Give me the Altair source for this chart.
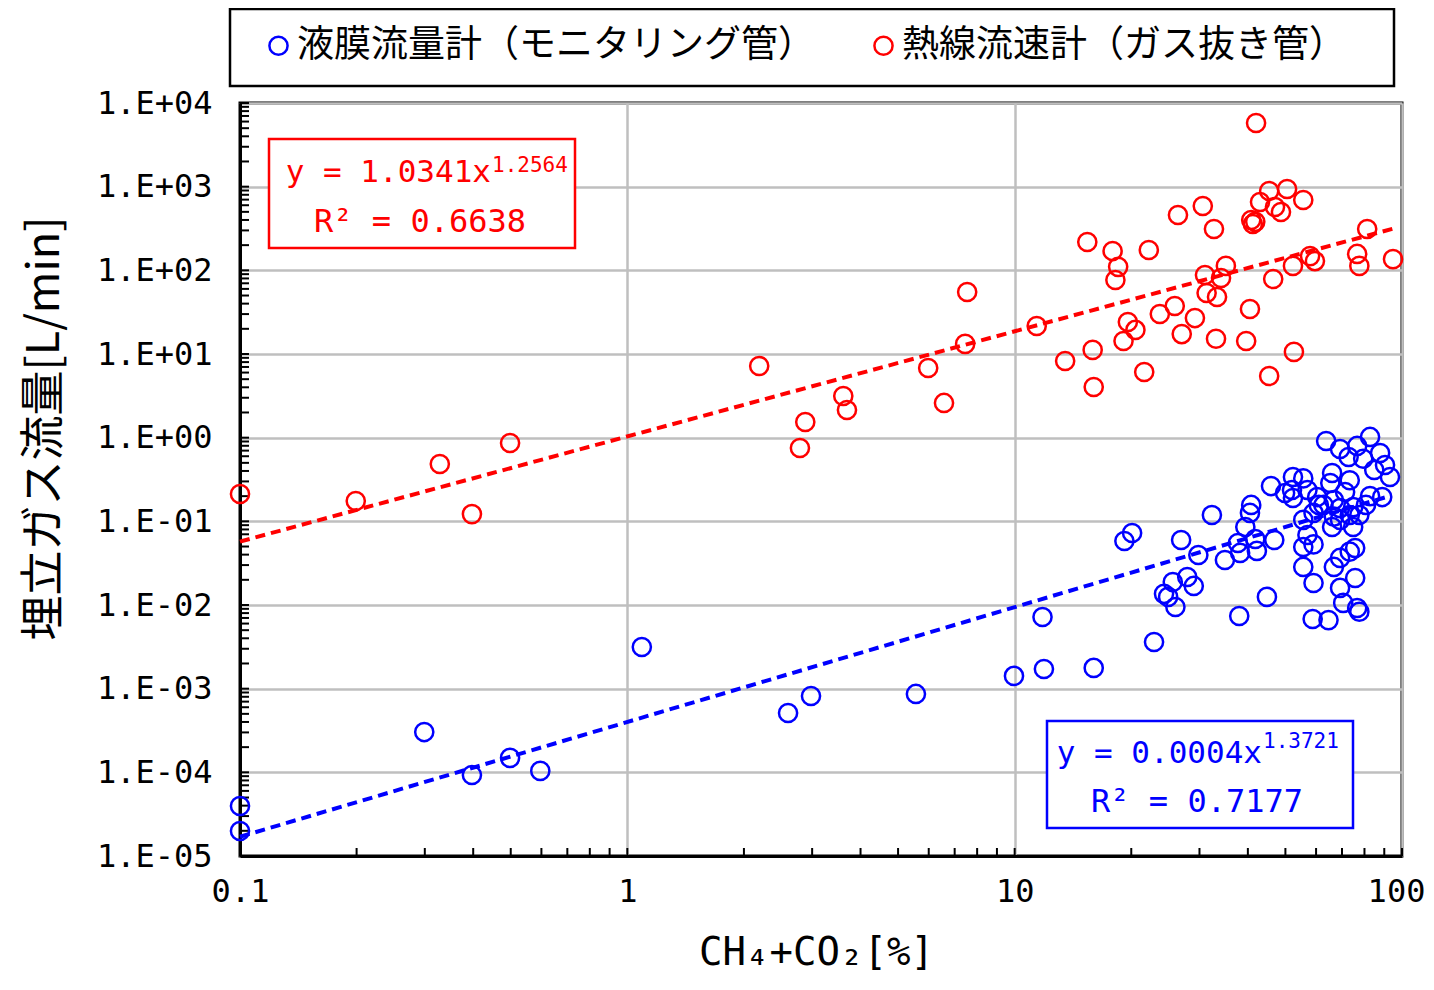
import altair as alt
import pandas as pd

# ---------------- data ----------------
blue_name = "液膜流量計（モニタリング管）"
red_name = "熱線流速計（ガス抜き管）"

blue_x = [0.1, 0.1, 0.299, 0.397, 0.498, 0.596, 1.09, 2.60, 2.98, 5.56, 9.96,
          11.9, 16.0, 11.8, 22.9, 19.2, 20.1, 26.9, 29.8, 27.9, 29.0, 25.6, 24.3, 24.9, 26.0,
          32.3, 40.8, 40.5, 39.4, 37.7, 38.2, 41.8, 42.2, 46.8, 34.9, 44.8, 38.0, 45.9,
          63.7, 82.7, 69.2, 76.6, 87.8, 72.8, 79.4, 90.4, 93.1, 84.8, 66.0, 52.3, 55.6, 73.3,
          71.3, 88.9, 82.7, 52.0, 52.3, 57.0, 60.4, 62.7, 66.7, 69.2, 74.8, 77.6, 66.7, 59.1,
          55.6, 66.0, 74.8, 57.0, 55.6, 59.1, 55.6, 75.7, 73.3, 69.2, 66.7, 59.1, 75.7, 69.2,
          70.5, 76.6, 77.6, 58.8, 64.6, 65.3, 49.9, 73.3, 80.7, 61.0, 69.2]
blue_y = [3.96e-5, 1.99e-5, 3.03e-4, 9.3e-5, 1.49e-4, 1.04e-4, 3.15e-3, 5.12e-4, 8.18e-4, 8.65e-4, 1.42e-3,
          1.72e-3, 1.77e-3, 7.19e-3, 3.61e-3, 0.0582, 0.0726, 0.0598, 0.0396, 0.0216, 0.0169, 0.0188, 0.0136, 0.0125, 0.00946,
          0.119, 0.157, 0.126, 0.0856, 0.0551, 0.0419, 0.0615, 0.0443, 0.0598, 0.0345, 0.0125, 0.00739, 0.264,
          0.912, 1.02, 0.732, 0.796, 0.656, 0.588, 0.56, 0.471, 0.339, 0.411, 0.378, 0.339, 0.326, 0.31,
          0.224, 0.195, 0.2, 0.237, 0.19, 0.237, 0.195, 0.157, 0.18, 0.144, 0.148, 0.119, 0.114, 0.126,
          0.104, 0.0856, 0.0856, 0.0687, 0.0493, 0.053, 0.0285, 0.048, 0.0434, 0.0365, 0.0285, 0.0183, 0.021, 0.016,
          0.0106, 0.0092, 0.0083, 0.0068, 0.0066, 0.287, 0.218, 0.119, 0.157, 0.157, 0.104]

red_x = [0.1, 0.199, 0.328, 0.397, 0.498, 2.19, 2.79, 2.88, 3.61, 3.69, 5.98, 6.57, 7.45, 7.54, 11.4,
         42.0, 45.4, 50.5, 43.0, 47.0, 48.7, 55.6, 30.6, 26.4, 32.7, 40.8, 41.2, 41.8,
         81.3, 94.8, 76.6, 77.6, 57.9, 59.6, 52.3, 46.5, 35.1, 34.1, 31.0, 31.3, 33.3, 40.5,
         29.2, 25.9, 23.7, 27.0, 19.6, 20.5, 19.1, 33.1, 39.6, 52.6, 45.4,
         15.4, 17.9, 18.5, 18.2, 22.2, 13.5, 15.9, 16.0, 21.6]
red_y = [0.212, 0.175, 0.484, 0.122, 0.863, 7.19, 0.753, 1.54, 3.15, 2.14, 6.80, 2.60, 13.2, 55.1, 21.6,
         5770, 887, 938, 656, 571, 498, 693, 587, 459, 312, 400, 358, 380,
         312, 136, 157, 113, 148, 129, 113, 78.7, 113, 81, 88, 53.6, 48.0, 34.5,
         26.9, 37.5, 30.1, 17.3, 24.1, 19.4, 14.3, 15.2, 14.3, 10.6, 5.46,
         218, 170, 110, 76.7, 175, 8.25, 11.2, 4.03, 6.10]

# trendline coefficients as printed on the chart (y = a * x^b)
red_a, red_b = 1.0341, 1.2564
blue_a, blue_b = 0.0004, 1.3721
red_trend_x = [0.1, 94.8]
blue_trend_x = [0.1, 93.1]

red_eq = ["y = 1.0341x", "1.2564", "R² = 0.6638"]
blue_eq = ["y = 0.0004x", "1.3721", "R² = 0.7177"]

x_tick_values = [0.1, 1, 10, 100]
x_tick_labels = ["0.1", "1", "10", "100"]
y_tick_values = [1e-5, 1e-4, 1e-3, 1e-2, 1e-1, 1, 10, 100, 1000, 10000]
y_tick_labels = ["1.E-05", "1.E-04", "1.E-03", "1.E-02", "1.E-01",
                 "1.E+00", "1.E+01", "1.E+02", "1.E+03", "1.E+04"]

x_title = "CH₄+CO₂[%]"
y_title = "埋立ガス流量[L/min]"

# ---------------- tables ----------------
points = pd.DataFrame({
    "x": blue_x + red_x,
    "y": blue_y + red_y,
    "series": [blue_name] * len(blue_x) + [red_name] * len(red_x),
})

trend = pd.DataFrame({
    "x": red_trend_x + blue_trend_x,
    "y": [red_a * v ** red_b for v in red_trend_x] + [blue_a * v ** blue_b for v in blue_trend_x],
    "series": [red_name] * len(red_trend_x) + [blue_name] * len(blue_trend_x),
})

minor_x = [m * 10.0 ** e for e in range(-1, 2) for m in range(1, 10)] + [100]
minor_y = [m * 10.0 ** e for e in range(-5, 4) for m in range(1, 10)] + [10000]
xt = pd.DataFrame({"x": minor_x})
yt = pd.DataFrame({"y": minor_y})
one = pd.DataFrame({"k": [0]})

W, H = 1162, 753
NUM_FONT = "DejaVu Sans Mono"
JP_FONT = "Noto Sans CJK JP"

xscale = alt.Scale(type="log", domain=[0.1, 100], nice=False)
yscale = alt.Scale(type="log", domain=[1e-5, 1e4], nice=False)
cscale = alt.Scale(domain=[blue_name, red_name], range=["#0000FF", "#FF0000"])

x_label_expr = "[" + ",".join(f"'{s}'" for s in x_tick_labels) + "][round(log(datum.value)/LN10)+1]"
y_label_expr = "[" + ",".join(f"'{s}'" for s in y_tick_labels) + "][round(log(datum.value)/LN10)+5]"

x_axis = alt.Axis(values=x_tick_values, labelExpr=x_label_expr, grid=True, gridColor="#BFBFBF",
                  gridWidth=2.5, ticks=False, tickSize=0, domain=True, domainColor="black",
                  domainWidth=3, labelFont=NUM_FONT, labelFontSize=32, labelColor="black",
                  labelPadding=20, labelFlush=False,
                  labelOffset={"condition": {"test": "datum.value >= 100", "value": -6}, "value": 0},
                  title=x_title, titleFont=NUM_FONT,
                  titleFontSize=39, titleFontWeight="normal", titleColor="black",
                  titleX=576, titleY=108, titleBaseline="alphabetic", titleAlign="center")
y_axis = alt.Axis(values=y_tick_values, labelExpr=y_label_expr, grid=True, gridColor="#BFBFBF",
                  gridWidth=2.5, ticks=False, tickSize=0, domain=True, domainColor="black",
                  domainWidth=3, labelFont=NUM_FONT, labelFontSize=32, labelColor="black",
                  labelPadding=28, labelFlush=False, title=y_title, titleFont=JP_FONT,
                  titleFontSize=45, titleFontWeight="normal", titleColor="black",
                  titleX=-196, titleY=325, titleAngle=270, titleAlign="center",
                  titleBaseline="middle")

X = alt.X("x:Q", scale=xscale, axis=x_axis)
Y = alt.Y("y:Q", scale=yscale, axis=y_axis)

pts = alt.Chart(points).mark_point(shape="circle", filled=False, size=330, strokeWidth=2.5, opacity=1).encode(
    x=X, y=Y,
    color=alt.Color("series:N", scale=cscale, legend=alt.Legend(
        orient="none", legendX=20, legendY=-76, direction="horizontal", title=None,
        labelFont=JP_FONT, labelFontSize=37, labelColor="black", labelLimit=2000,
        symbolType="circle", symbolSize=330, symbolStrokeWidth=2.5, labelOffset=0,
        columnPadding=50, padding=0)),
)

lines = alt.Chart(trend).mark_line(strokeDash=[10, 6], strokeWidth=4).encode(
    x=X, y=Y,
    color=alt.Color("series:N", scale=cscale, legend=None),
    detail="series:N",
)

xticks = alt.Chart(xt).mark_rule(color="black", strokeWidth=2).encode(
    x=X, y=alt.value(H), y2=alt.value(H - 8))
yticks = alt.Chart(yt).mark_rule(color="black", strokeWidth=2).encode(
    y=Y, x=alt.value(0), x2=alt.value(9))

legend_box = alt.Chart(one).mark_rect(fill="white", stroke="black", strokeWidth=2.5).encode(
    x=alt.value(-10), x2=alt.value(1154), y=alt.value(-94), y2=alt.value(-17))

red_box = alt.Chart(one).mark_rect(fill="white", stroke="#FF0000", strokeWidth=2.5).encode(
    x=alt.value(29), x2=alt.value(335), y=alt.value(36), y2=alt.value(145))
blue_box = alt.Chart(one).mark_rect(fill="white", stroke="#0000FF", strokeWidth=2.5).encode(
    x=alt.value(807), x2=alt.value(1113), y=alt.value(618), y2=alt.value(725))


def eq_text(txt, x, y, size, color, align):
    return alt.Chart(one).mark_text(font=NUM_FONT, fontSize=size, color=color, align=align,
                                    baseline="alphabetic").encode(
        x=alt.value(x), y=alt.value(y), text=alt.value(txt))


texts = [
    eq_text(red_eq[0], 251, 79, 31, "#FF0000", "right"),
    eq_text(red_eq[1], 252, 69, 21, "#FF0000", "left"),
    eq_text(red_eq[2], 180, 129, 32, "#FF0000", "center"),
    eq_text(blue_eq[0], 1022, 660, 31, "#0000FF", "right"),
    eq_text(blue_eq[1], 1023, 645, 21, "#0000FF", "left"),
    eq_text(blue_eq[2], 957, 709, 32, "#0000FF", "center"),
]

chart = alt.layer(
    legend_box, xticks, yticks, pts, lines, red_box, blue_box, *texts
).properties(
    width=W, height=H,
    background="white",
    autosize=alt.AutoSizeParams(type="none"),
    padding={"left": 232, "top": 95, "right": 24, "bottom": 120},
).configure_view(stroke="black", strokeWidth=3)

chart.save("out.html", embed_options={"renderer": "svg", "actions": False})
